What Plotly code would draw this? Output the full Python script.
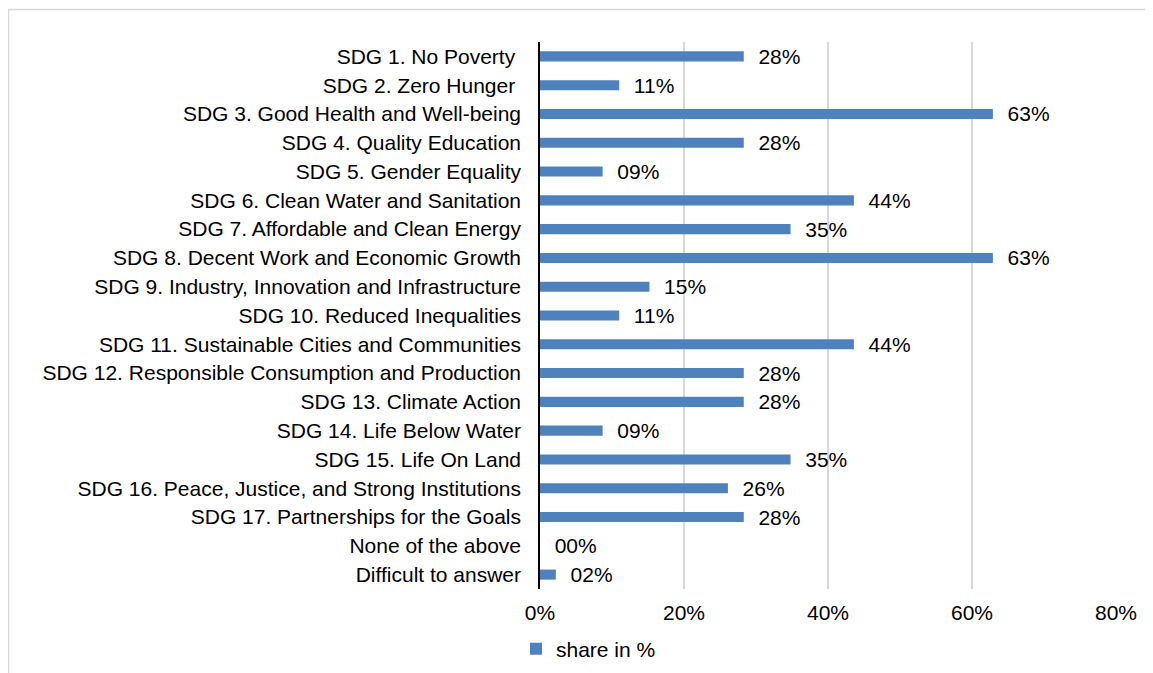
import plotly.graph_objects as go

categories = [
    "SDG 1. No Poverty\u00a0",
    "SDG 2. Zero Hunger\u00a0",
    "SDG 3. Good Health and Well-being",
    "SDG 4. Quality Education",
    "SDG 5. Gender Equality",
    "SDG 6. Clean Water and Sanitation",
    "SDG 7. Affordable and Clean Energy",
    "SDG 8. Decent Work and Economic Growth",
    "SDG 9. Industry, Innovation and Infrastructure",
    "SDG 10. Reduced Inequalities",
    "SDG 11. Sustainable Cities and Communities",
    "SDG 12. Responsible Consumption and Production",
    "SDG 13. Climate Action",
    "SDG 14. Life Below Water",
    "SDG 15. Life On Land",
    "SDG 16. Peace, Justice, and Strong Institutions",
    "SDG 17. Partnerships for the Goals",
    "None of the above",
    "Difficult to answer",
]
share = [28.3, 11.0, 62.9, 28.3, 8.7, 43.6, 34.8, 62.9, 15.2, 11.0,
         43.6, 28.3, 28.3, 8.7, 34.8, 26.1, 28.3, 0.0, 2.2]
labels = [f"\u00a0\u00a0{int(round(v)):02d}%" for v in share]
x_ticks = [0, 20, 40, 60, 80]
x_ticklabels = ["0%", "20%", "40%", "60%", "80%"]

# page has an 8px body margin; figure sized to fit the 1153x673 window
OFF = 8
W, H = 1153 - OFF, 673 - OFF
L, T = 540 - OFF, 42 - OFF
pw, ph = 576, 547
R = W - L - pw
B = H - T - ph

fig = go.Figure()
fig.add_trace(go.Bar(
    y=categories, x=share, orientation="h",
    name="share in %",
    marker=dict(color="#4F81BD", line=dict(width=0)),
    width=0.35,
    text=labels, textposition="outside",
    textfont=dict(size=21, color="#000000", family="Liberation Sans, Arial"),
    cliponaxis=False, constraintext="none",
))

fig.update_layout(
    width=W, height=H,
    margin=dict(l=L, r=R, t=T, b=B, autoexpand=False),
    paper_bgcolor="white", plot_bgcolor="white",
    font=dict(family="Liberation Sans, Arial", size=21, color="#000000"),
    showlegend=True,
    legend=dict(orientation="h", x=-24 / pw, xanchor="left",
                y=-60 / ph, yanchor="middle",
                font=dict(size=21), itemwidth=30),
    xaxis=dict(range=[0, 80], tickvals=x_ticks, ticktext=x_ticklabels,
               showgrid=True, gridcolor="#D9D9D9", gridwidth=1.5,
               zeroline=False, showline=False, ticks="",
               ticklabelstandoff=9, fixedrange=True),
    yaxis=dict(autorange="reversed", showline=True, linecolor="#000000",
               linewidth=1.5, ticks="", showgrid=False,
               ticklabelstandoff=13, fixedrange=True),
    bargap=0.65,
    shapes=[dict(type="rect", xref="paper", yref="paper",
                 x0=-(L - 0.5) / pw, x1=(W + 20 - L) / pw,
                 y0=-(B + 20) / ph, y1=1 + (T - 1.5) / ph,
                 line=dict(color="#D9D9D9", width=1.5), layer="below")],
)

fig.write_html("out.html")
